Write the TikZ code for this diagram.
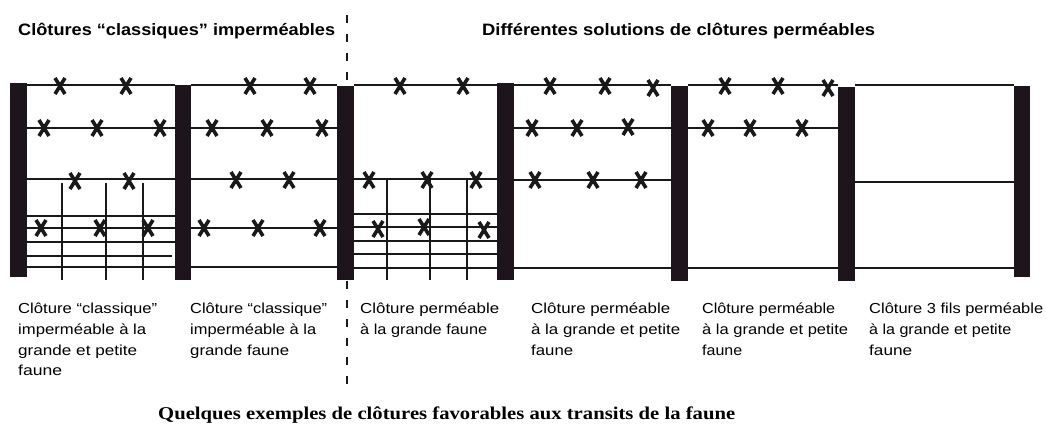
\documentclass[tikz,border=0pt]{standalone}
\usepackage{fontspec}
\usepackage{graphicx}
\setmainfont{Liberation Serif}
\setsansfont{Liberation Sans}
\newsavebox\fitbox
\newcommand\hfit[2]{\sbox\fitbox{#2}\scalebox{\fpeval{(#1)*65536/\number\wd\fitbox}}[1]{\usebox\fitbox}}
\definecolor{postc}{RGB}{30,20,28}
\definecolor{wirec}{RGB}{25,25,25}
\tikzset{
  post/.style={fill=postc},
  wire/.style={draw=wirec,line width=1.2pt},
  meshline/.style={draw=wirec,line width=1.2pt},
  barbline/.style={draw=wirec,line width=3.6pt},
  barb/.pic={\draw[barbline] (-5,-8) -- (5,8) (5,-8) -- (-5,8);},
  divider/.style={draw=wirec,line width=1.1pt,dash pattern=on 8pt off 11pt},
  lbl/.style={anchor=base west,inner sep=0,font=\sffamily\fontsize{14.5}{14.5}\selectfont},
  hdr/.style={anchor=base west,inner sep=0,font=\sffamily\bfseries\fontsize{16.5}{16.5}\selectfont},
  ttl/.style={anchor=base west,inner sep=0,font=\rmfamily\bfseries\fontsize{18}{18}\selectfont}
}
\begin{document}
\begin{tikzpicture}[x=1pt,y=-1pt]
\useasboundingbox (0,0) rectangle (1046,424);
\fill[white] (0,0) rectangle (1046,424);
% dashed divider
\draw[divider] (347,15) -- (347,385);
% panel 1 wires
\foreach \y in {85,128,179,216,228,242,267} \draw[wire] (27,\y) -- (175,\y);
\draw[wire] (27,256) -- (172,256);
\foreach \x in {62,106,143} \draw[meshline] (\x,183) -- (\x,280);
% panel 2 wires
\foreach \y in {85,128,179,228,267} \draw[wire] (191,\y) -- (337,\y);
% panel 3 wires
\foreach \y in {85,179,214,227,241,254,268} \draw[wire] (354,\y) -- (497,\y);
\foreach \x in {387,430,467} \draw[meshline] (\x,179) -- (\x,280);
% panel 4 wires
\foreach \y in {85,128,180,268} \draw[wire] (514,\y) -- (671,\y);
% panel 5 wires
\foreach \y in {85,128,268} \draw[wire] (688,\y) -- (838,\y);
% panel 6 wires
\foreach \y in {85,182,268} \draw[wire] (855,\y) -- (1014,\y);
% posts
\fill[post] (10,83) rectangle (27,277);
\fill[post] (175,85) rectangle (191,280);
\fill[post] (337,86) rectangle (354,280);
\fill[post] (497,83) rectangle (514,280);
\fill[post] (671,86) rectangle (688,281);
\fill[post] (838,87) rectangle (855,281);
\fill[post] (1014,86) rectangle (1030,277);
% barbs
\foreach \p in {(60,86),(126,86),(44,128),(97,128),(160,128),(75,181),(129,181),(41,228),(100,228),(148,228),
  (250,86),(310,86),(212,128),(267,128),(322,128),(236,180),(289,180),(204,228),(258,228),(320,228),
  (400,86),(463,86),(369,180),(427,180),(476,180),(378,229),(424,227),(484,230),
  (550,86),(605,86),(653,88),(532,128),(577,128),(628,127),(535,180),(593,180),(641,180),
  (725,86),(778,86),(828,88),(708,128),(750,128),(802,128)}
  \pic at \p {barb};
% headers
\node[hdr] (h1) at (18,35) {\hfit{317}{Clôtures “classiques” imperméables}};
\node[hdr] (h2) at (482,35) {\hfit{393}{Différentes solutions de clôtures perméables}};
% labels
\node[lbl] (l1a) at (18,313) {\hfit{139}{Clôture “classique”}};
\node[lbl] (l1b) at (18,334) {\hfit{128}{imperméable à la}};
\node[lbl] (l1c) at (18,355) {\hfit{119}{grande et petite}};
\node[lbl] (l1d) at (18,375) {\hfit{44}{faune}};
\node[lbl] (l2a) at (190,313) {\hfit{137}{Clôture “classique”}};
\node[lbl] (l2b) at (190,334) {\hfit{126}{imperméable à la}};
\node[lbl] (l2c) at (190,355) {\hfit{99}{grande faune}};
\node[lbl] (l3a) at (360,313) {\hfit{139}{Clôture perméable}};
\node[lbl] (l3b) at (360,334) {\hfit{127}{à la grande faune}};
\node[lbl] (l4a) at (531,313) {\hfit{139}{Clôture perméable}};
\node[lbl] (l4b) at (531,334) {\hfit{149}{à la grande et petite}};
\node[lbl] (l4c) at (531,355) {\hfit{42}{faune}};
\node[lbl] (l5a) at (702,313) {\hfit{133}{Clôture perméable}};
\node[lbl] (l5b) at (702,334) {\hfit{146}{à la grande et petite}};
\node[lbl] (l5c) at (702,355) {\hfit{40}{faune}};
\node[lbl] (l6a) at (869,313) {\hfit{174}{Clôture 3 fils perméable}};
\node[lbl] (l6b) at (869,334) {\hfit{142}{à la grande et petite}};
\node[lbl] (l6c) at (869,355) {\hfit{43}{faune}};
% title
\node[ttl] (t) at (158,419) {\hfit{577}{Quelques exemples de clôtures favorables aux transits de la faune}};
\end{tikzpicture}
\end{document}
